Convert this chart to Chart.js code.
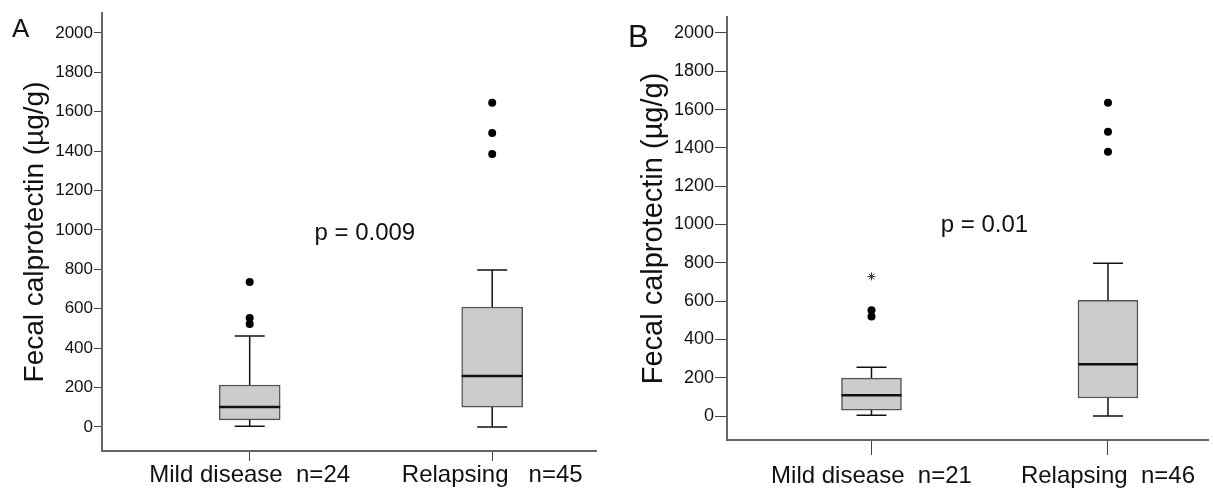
<!DOCTYPE html>
<html lang="en">
<head>
    <meta charset="UTF-8">
    <title>Fecal calprotectin box plots</title>
    <script src="https://cdn.jsdelivr.net/npm/chart.js"></script>
    <style>
        body { margin: 0; background: #fff; font-family: "Liberation Sans", Arial, sans-serif; }
        .panel { position: absolute; top: 0; height: 488px; }
        #panelA { left: 0; width: 600px; }
        #panelB { left: 600px; width: 613px; }
    </style>
</head>
<body>
    <div class="panel" id="panelA"><canvas id="chartA"></canvas></div>
    <div class="panel" id="panelB"><canvas id="chartB"></canvas></div>

    <script>
        // y axis ticks shared by both panels
        const yTicks = [0, 200, 400, 600, 800, 1000, 1200, 1400, 1600, 1800, 2000];

        // panel A
        const categoriesA = ['Mild disease  n=24', 'Relapsing   n=45'];
        const minA = [3, 0];
        const q1A = [36, 101];
        const medianA = [101, 259];
        const q3A = [213, 609];
        const maxA = [462, 797];
        const outliersA = [[736, 553, 523], [1645, 1492, 1386]];
        const extremesA = [[], []];

        // panel B
        const categoriesB = ['Mild disease  n=21', 'Relapsing  n=46'];
        const minB = [4, 0];
        const q1B = [31, 94];
        const medianB = [109, 271];
        const q3B = [198, 604];
        const maxB = [255, 797];
        const outliersB = [[552, 520], [1635, 1484, 1380]];
        const extremesB = [[729], []];

        const FONT = '"Liberation Sans", Arial, sans-serif';

        // whiskers, caps, medians, p-value text and panel letter
        const boxExtras = {
            id: 'boxExtras',
            afterDatasetsDraw(chart, args, opts) {
                const ctx = chart.ctx;
                const xs = chart.scales.x, ys = chart.scales.y;
                const bars = chart.getDatasetMeta(0).data;
                ctx.save();
                ctx.strokeStyle = '#111';
                opts.median.forEach((m, i) => {
                    const x = xs.getPixelForValue(i);
                    const half = bars[i].width / 2;
                    const cap = opts.capWidth / 2;
                    ctx.lineWidth = 1.5;
                    ctx.beginPath();
                    ctx.moveTo(x, ys.getPixelForValue(opts.q3[i]));
                    ctx.lineTo(x, ys.getPixelForValue(opts.max[i]));
                    ctx.moveTo(x, ys.getPixelForValue(opts.q1[i]));
                    ctx.lineTo(x, ys.getPixelForValue(opts.min[i]));
                    ctx.moveTo(x - cap, ys.getPixelForValue(opts.max[i]));
                    ctx.lineTo(x + cap, ys.getPixelForValue(opts.max[i]));
                    ctx.moveTo(x - cap, ys.getPixelForValue(opts.min[i]));
                    ctx.lineTo(x + cap, ys.getPixelForValue(opts.min[i]));
                    ctx.stroke();
                    ctx.lineWidth = 2.5;
                    ctx.beginPath();
                    ctx.moveTo(x - half, ys.getPixelForValue(m));
                    ctx.lineTo(x + half, ys.getPixelForValue(m));
                    ctx.stroke();
                });
                ctx.fillStyle = '#111';
                ctx.font = '24px ' + FONT;
                ctx.textAlign = 'left';
                ctx.textBaseline = 'alphabetic';
                ctx.fillText(opts.pText, xs.getPixelForValue(opts.pAt[0]), ys.getPixelForValue(opts.pAt[1]));
                ctx.font = opts.letterSize + 'px ' + FONT;
                ctx.fillText(opts.letter, opts.letterPos[0], opts.letterPos[1]);
                ctx.restore();
            }
        };

        function makePanel(id, p) {
            const outlierPts = [], extremePts = [];
            p.outliers.forEach((list, i) => list.forEach(v => outlierPts.push({ x: i, y: v })));
            p.extremes.forEach((list, i) => list.forEach(v => extremePts.push({ x: i, y: v })));

            new Chart(document.getElementById(id), {
                type: 'bar',
                data: {
                    datasets: [{
                        data: p.q1.map((v, i) => ({ x: i, y: [v, p.q3[i]] })),
                        backgroundColor: '#cccccc',
                        borderColor: '#555555',
                        borderWidth: 1.5,
                        borderSkipped: false,
                        barThickness: p.boxWidth
                    }, {
                        type: 'scatter',
                        data: outlierPts,
                        pointRadius: 4,
                        pointBackgroundColor: '#000',
                        pointBorderWidth: 0
                    }, {
                        type: 'scatter',
                        data: extremePts,
                        pointStyle: 'star',
                        pointRadius: 4,
                        pointBorderColor: '#333',
                        pointBorderWidth: 1
                    }]
                },
                options: {
                    responsive: true,
                    maintainAspectRatio: false,
                    animation: false,
                    layout: { padding: { top: p.padTop, right: p.padRight, left: 0, bottom: 0 } },
                    plugins: {
                        legend: { display: false },
                        tooltip: { enabled: false },
                        boxExtras: {
                            median: p.median, q1: p.q1, q3: p.q3, min: p.min, max: p.max,
                            capWidth: 30,
                            pText: p.pText, pAt: p.pAt,
                            letter: p.letter, letterSize: p.letterSize, letterPos: p.letterPos
                        }
                    },
                    scales: {
                        x: {
                            type: 'linear',
                            offset: false,
                            min: p.xMin,
                            max: p.xMax,
                            afterBuildTicks: s => { s.ticks = p.categories.map((c, i) => ({ value: i })); },
                            afterFit: s => { s.height = p.xHeight; },
                            ticks: {
                                callback: v => p.categories[v],
                                color: '#111',
                                font: { family: FONT, size: p.catSize },
                                padding: p.xPad,
                                maxRotation: 0,
                                autoSkip: false
                            },
                            grid: { offset: false, drawOnChartArea: false, drawTicks: true, tickLength: p.xTick, color: '#444' },
                            border: { display: true, color: '#666', width: 2 }
                        },
                        y: {
                            min: p.yMin,
                            max: p.yMax,
                            afterBuildTicks: s => { s.ticks = yTicks.map(v => ({ value: v })); },
                            afterFit: s => { s.width = p.yWidth; },
                            ticks: {
                                callback: v => String(v),
                                color: '#111',
                                font: { family: FONT, size: p.tickSize },
                                padding: 1
                            },
                            grid: { drawOnChartArea: false, drawTicks: true, tickLength: p.yTick, color: '#444' },
                            border: { display: true, color: '#666', width: 2 },
                            title: {
                                display: true,
                                text: 'Fecal calprotectin (µg/g)',
                                color: '#111',
                                font: { family: FONT, size: p.titleSize },
                                padding: { top: p.titlePad, bottom: 0 }
                            }
                        }
                    }
                },
                plugins: [boxExtras]
            });
        }

        makePanel('chartA', {
            categories: categoriesA, q1: q1A, median: medianA, q3: q3A, min: minA, max: maxA,
            outliers: outliersA, extremes: extremesA,
            xMin: -0.609, xMax: 1.428, yMin: -122, yMax: 2101,
            padTop: 13, padRight: 3, yWidth: 102, xHeight: 37,
            boxWidth: 61, catSize: 24, tickSize: 17, xTick: 10, yTick: 8, xPad: 0, titlePad: 18, titleSize: 28,
            pText: 'p = 0.009', pAt: [0.267, 949],
            letter: 'A', letterSize: 26, letterPos: [12, 37]
        });

        makePanel('chartB', {
            categories: categoriesB, q1: q1B, median: medianB, q3: q3B, min: minB, max: maxB,
            outliers: outliersB, extremes: extremesB,
            xMin: -0.611, xMax: 1.423, yMin: -125, yMax: 2083,
            padTop: 17, padRight: 0, yWidth: 127, xHeight: 48,
            boxWidth: 60, catSize: 24, tickSize: 18, xTick: 15, yTick: 12, xPad: 7, titlePad: 37, titleSize: 29,
            pText: 'p = 0.01', pAt: [0.293, 963],
            letter: 'B', letterSize: 31, letterPos: [28, 47]
        });
    </script>
</body>
</html>
